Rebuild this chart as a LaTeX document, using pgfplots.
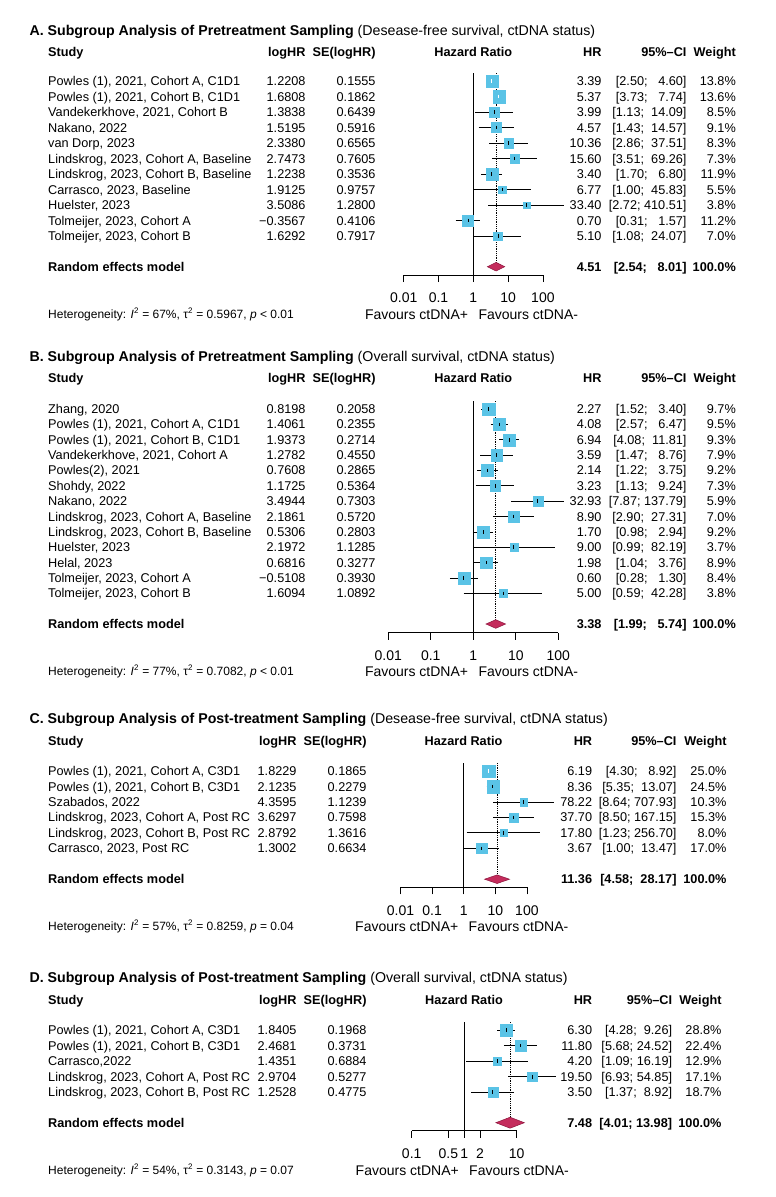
\documentclass[border=0pt]{standalone}
\usepackage{fontspec}
\setmainfont{Liberation Sans}
\usepackage{pgfplots}
\pgfplotsset{compat=1.18}
\definecolor{sq}{RGB}{90,195,230}
\definecolor{dia}{RGB}{196,44,92}
\definecolor{diab}{RGB}{140,20,60}
\newcommand\fb{\fontsize{12.7pt}{15pt}\selectfont}
\newcommand\ft{\fontsize{14.2pt}{17pt}\selectfont}
\newcommand\fx{\fontsize{14pt}{17pt}\selectfont}
\newcommand\fh{\fontsize{12pt}{14pt}\selectfont}
\tikzset{
 L/.style={anchor=west, inner sep=0pt, text height=9.1pt, text depth=0pt, font=\fb},
 R/.style={anchor=east, inner sep=0pt, text height=9.1pt, text depth=0pt, font=\fb},
 C/.style={anchor=center, inner sep=0pt, text height=9.1pt, text depth=0pt, font=\fb},
 T/.style={anchor=west, inner sep=0pt, text height=10.2pt, text depth=0pt, font=\ft},
 H/.style={anchor=west, inner sep=0pt, text height=8.6pt, text depth=0pt, font=\fh},
 F/.style={inner sep=0pt, text height=10pt, text depth=0pt, font=\fx},
}
\pgfplotsset{forestax/.style={
 scale only axis, clip=false,
 anchor=south west,
 axis x line=bottom, axis y line=none,
 x axis line style={-, line width=0.8pt, black},
 xtick align=outside, major tick length=7pt,
 tick style={black, line width=0.8pt},
 xminorticks=false,
 xticklabels={},
}}
\newcommand\trow[7]{%
 \node[L] at (48pt,-#1pt) {#2};
 \node[R] at (\xlog,-#1pt) {#3};
 \node[R] at (\xse,-#1pt) {#4};
 \node[R] at (\xhr,-#1pt) {#5};
 \node[R] at (\xci,-#1pt) {#6};
 \node[R] at (\xw,-#1pt) {#7};}
\newcommand\hrow[2]{%
 \node[L,font=\fb\bfseries] at (48pt,-#1pt) {Study};
 \node[R,font=\fb\bfseries] at (\xlog,-#1pt) {logHR};
 \node[R,font=\fb\bfseries] at (\xse,-#1pt) {SE(logHR)};
 \node[C,font=\fb\bfseries] at (#2,-#1pt) {Hazard Ratio};
 \node[R,font=\fb\bfseries] at (\xhr,-#1pt) {HR};
 \node[R,font=\fb\bfseries] at (\xci,-#1pt) {95\%--CI};
 \node[R,font=\fb\bfseries] at (\xw,-#1pt) {Weight};}
\newcommand\srow[3]{%
 \node[L,font=\fb\bfseries] at (48pt,-#1pt) {Random effects model};
 \node[R,font=\fb\bfseries] at (\xhr,-#1pt) {#2};
 \node[R,font=\fb\bfseries] at (\xci,-#1pt) {#3};
 \node[R,font=\fb\bfseries] at (\xw,-#1pt) {100.0\%};}
\newcommand\ttl[3]{\node[T] at (29.3pt,-#1pt) {\textbf{#2} #3};}
\newcommand\het[4]{\node[H] at (48pt,-#1pt) {Heterogeneity: \textit{I}\textsuperscript{2} = #2, τ\textsuperscript{2} = #3, \textit{p} #4};}
\newcommand\fav[2]{%
 \node[F,anchor=east,xshift=-5pt] at (#2pt,-#1pt) {Favours ctDNA+};
 \node[F,anchor=west,xshift=5pt] at (#2pt,-#1pt) {Favours ctDNA-};}
\newcommand\frow[6]{%
 \addplot[sq, only marks, mark=square*, mark size=#5pt, mark options={solid, line width=0.1pt, draw=sq, fill=sq}] coordinates {(#2,-#1)};
 \addplot[#6, line width=0.8pt] coordinates {(#3,-#1) (#4,-#1)};
 \addplot[#6, only marks, mark=|, mark size=1.8pt, mark options={line width=0.8pt}] coordinates {(#2,-#1)};}
% tick label at x value #1, pixel row #2
\newcommand\tl[2]{\node[F,anchor=center] at (axis cs:#1,-#2) {#1};}
\begin{document}
\begin{tikzpicture}
\useasboundingbox (0pt,0pt) rectangle (776pt,-1197pt);
\fill[white] (0pt,0pt) rectangle (776pt,-1197pt);
%================ A
\def\xlog{305.7pt}\def\xse{375.7pt}\def\xhr{601.7pt}\def\xci{686.7pt}\def\xw{736pt}
\ttl{30}{A. Subgroup Analysis of Pretreatment Sampling}{(Desease-free survival, ctDNA status)}
\hrow{51.7}{473.3pt}
\trow{81}{Powles (1), 2021, Cohort A, C1D1}{1.2208}{0.1555}{3.39}{[2.50;~~~4.60]}{13.8\%}
\trow{96.5}{Powles (1), 2021, Cohort B, C1D1}{1.6808}{0.1862}{5.37}{[3.73;~~~7.74]}{13.6\%}
\trow{112}{Vandekerkhove, 2021, Cohort B}{1.3838}{0.6439}{3.99}{[1.13;~~14.09]}{8.5\%}
\trow{127.5}{Nakano, 2022}{1.5195}{0.5916}{4.57}{[1.43;~~14.57]}{9.1\%}
\trow{143}{van Dorp, 2023}{2.3380}{0.6565}{10.36}{[2.86;~~37.51]}{8.3\%}
\trow{158.5}{Lindskrog, 2023, Cohort A, Baseline}{2.7473}{0.7605}{15.60}{[3.51;~~69.26]}{7.3\%}
\trow{174}{Lindskrog, 2023, Cohort B, Baseline}{1.2238}{0.3536}{3.40}{[1.70;~~~6.80]}{11.9\%}
\trow{189.5}{Carrasco, 2023, Baseline}{1.9125}{0.9757}{6.77}{[1.00;~~45.83]}{5.5\%}
\trow{205}{Huelster, 2023}{3.5086}{1.2800}{33.40}{[2.72;~410.51]}{3.8\%}
\trow{220.5}{Tolmeijer, 2023, Cohort A}{−0.3567}{0.4106}{0.70}{[0.31;~~~1.57]}{11.2\%}
\trow{236}{Tolmeijer, 2023, Cohort B}{1.6292}{0.7917}{5.10}{[1.08;~~24.07]}{7.0\%}
\srow{266.7}{4.51}{[2.54;~~~8.01]}
\het{314}{67\%}{0.5967}{< 0.01}
\fav{314.5}{473.3}
\begin{semilogxaxis}[forestax, at={(403.7pt,-275pt)}, width=139.2pt, height=205pt,
 xmin=0.01, xmax=100, ymin=-275, ymax=-70,
 xtick={0.01,0.1,1,10,100}]
\addplot[black, line width=0.8pt] coordinates {(1,-73) (1,-275)};
\addplot[black, densely dotted, line width=0.8pt] coordinates {(4.51,-73) (4.51,-266.7)};
\frow{81}{3.39}{2.50}{4.60}{6.2}{white}
\frow{96.5}{5.37}{3.73}{7.74}{6.15}{white}
\frow{112}{3.99}{1.13}{14.09}{4.86}{black}
\frow{127.5}{4.57}{1.43}{14.57}{5.03}{black}
\frow{143}{10.36}{2.86}{37.51}{4.81}{black}
\frow{158.5}{15.60}{3.51}{69.26}{4.51}{black}
\frow{174}{3.40}{1.70}{6.80}{5.75}{black}
\frow{189.5}{6.77}{1.00}{45.83}{3.91}{black}
\frow{205}{33.40}{2.72}{410.51}{3.25}{black}
\frow{220.5}{0.70}{0.31}{1.57}{5.58}{black}
\frow{236}{5.10}{1.08}{24.07}{4.41}{black}
\addplot[fill=dia, draw=diab, line width=0.5pt] coordinates {(2.54,-266.7) (4.51,-262.4) (8.01,-266.7) (4.51,-271)} -- cycle;
\tl{0.01}{297.7}\tl{0.1}{297.7}\tl{1}{297.7}\tl{10}{297.7}\tl{100}{297.7}
\end{semilogxaxis}
%================ B
\ttl{356.7}{B. Subgroup Analysis of Pretreatment Sampling}{(Overall survival, ctDNA status)}
\hrow{377.7}{473.3pt}
\trow{409}{Zhang, 2020}{0.8198}{0.2058}{2.27}{[1.52;~~~3.40]}{9.7\%}
\trow{424.4}{Powles (1), 2021, Cohort A, C1D1}{1.4061}{0.2355}{4.08}{[2.57;~~~6.47]}{9.5\%}
\trow{439.7}{Powles (1), 2021, Cohort B, C1D1}{1.9373}{0.2714}{6.94}{[4.08;~~11.81]}{9.3\%}
\trow{455.1}{Vandekerkhove, 2021, Cohort A}{1.2782}{0.4550}{3.59}{[1.47;~~~8.76]}{7.9\%}
\trow{470.4}{Powles(2), 2021}{0.7608}{0.2865}{2.14}{[1.22;~~~3.75]}{9.2\%}
\trow{485.8}{Shohdy, 2022}{1.1725}{0.5364}{3.23}{[1.13;~~~9.24]}{7.3\%}
\trow{501.2}{Nakano, 2022}{3.4944}{0.7303}{32.93}{[7.87;~137.79]}{5.9\%}
\trow{516.5}{Lindskrog, 2023, Cohort A, Baseline}{2.1861}{0.5720}{8.90}{[2.90;~~27.31]}{7.0\%}
\trow{531.9}{Lindskrog, 2023, Cohort B, Baseline}{0.5306}{0.2803}{1.70}{[0.98;~~~2.94]}{9.2\%}
\trow{547.2}{Huelster, 2023}{2.1972}{1.1285}{9.00}{[0.99;~~82.19]}{3.7\%}
\trow{562.6}{Helal, 2023}{0.6816}{0.3277}{1.98}{[1.04;~~~3.76]}{8.9\%}
\trow{578}{Tolmeijer, 2023, Cohort A}{−0.5108}{0.3930}{0.60}{[0.28;~~~1.30]}{8.4\%}
\trow{593.3}{Tolmeijer, 2023, Cohort B}{1.6094}{1.0892}{5.00}{[0.59;~~42.28]}{3.8\%}
\srow{624}{3.38}{[1.99;~~~5.74]}
\het{671}{77\%}{0.7082}{< 0.01}
\fav{671.5}{473.3}
\begin{semilogxaxis}[forestax, at={(388.3pt,-632.7pt)}, width=170pt, height=237.7pt,
 xmin=0.01, xmax=100, ymin=-632.7, ymax=-395,
 xtick={0.01,0.1,1,10,100}]
\addplot[black, line width=0.8pt] coordinates {(1,-401) (1,-632.7)};
\addplot[black, densely dotted, line width=0.8pt] coordinates {(3.38,-401) (3.38,-624)};
\frow{409}{2.27}{1.52}{3.40}{6.2}{black}
\frow{424.4}{4.08}{2.57}{6.47}{6.14}{black}
\frow{439.7}{6.94}{4.08}{11.81}{6.07}{black}
\frow{455.1}{3.59}{1.47}{8.76}{5.6}{black}
\frow{470.4}{2.14}{1.22}{3.75}{6.04}{black}
\frow{485.8}{3.23}{1.13}{9.24}{5.38}{black}
\frow{501.2}{32.93}{7.87}{137.79}{4.84}{black}
\frow{516.5}{8.90}{2.90}{27.31}{5.27}{black}
\frow{531.9}{1.70}{0.98}{2.94}{6.04}{black}
\frow{547.2}{9.00}{0.99}{82.19}{3.83}{black}
\frow{562.6}{1.98}{1.04}{3.76}{5.94}{black}
\frow{578}{0.60}{0.28}{1.30}{5.77}{black}
\frow{593.3}{5.00}{0.59}{42.28}{3.88}{black}
\addplot[fill=dia, draw=diab, line width=0.5pt] coordinates {(1.99,-624) (3.38,-619.7) (5.74,-624) (3.38,-628.3)} -- cycle;
\tl{0.01}{655}\tl{0.1}{655}\tl{1}{655}\tl{10}{655}\tl{100}{655}
\end{semilogxaxis}
%================ C
\def\xlog{296.7pt}\def\xse{366.7pt}\def\xhr{592.3pt}\def\xci{676.7pt}\def\xw{726.7pt}
\ttl{718.8}{C. Subgroup Analysis of Post-treatment Sampling}{(Desease-free survival, ctDNA status)}
\hrow{740.8}{463.5pt}
\trow{771}{Powles (1), 2021, Cohort A, C3D1}{1.8229}{0.1865}{6.19}{[4.30;~~~8.92]}{25.0\%}
\trow{786.5}{Powles (1), 2021, Cohort B, C3D1}{2.1235}{0.2279}{8.36}{[5.35;~~13.07]}{24.5\%}
\trow{801.9}{Szabados, 2022}{4.3595}{1.1239}{78.22}{[8.64;~707.93]}{10.3\%}
\trow{817.4}{Lindskrog, 2023, Cohort A, Post RC}{3.6297}{0.7598}{37.70}{[8.50;~167.15]}{15.3\%}
\trow{832.8}{Lindskrog, 2023, Cohort B, Post RC}{2.8792}{1.3616}{17.80}{[1.23;~256.70]}{8.0\%}
\trow{848.3}{Carrasco, 2023, Post RC}{1.3002}{0.6634}{3.67}{[1.00;~~13.47]}{17.0\%}
\srow{879.2}{11.36}{[4.58;~~28.17]}
\het{926}{57\%}{0.8259}{= 0.04}
\fav{926}{463.5}
\begin{semilogxaxis}[forestax, at={(400.5pt,-887.3pt)}, width=126.4pt, height=132.3pt,
 xmin=0.01, xmax=100, ymin=-887.3, ymax=-755,
 xtick={0.01,0.1,1,10,100}]
\addplot[black, line width=0.8pt] coordinates {(1,-763) (1,-887.3)};
\addplot[black, densely dotted, line width=0.8pt] coordinates {(11.36,-763) (11.36,-879.2)};
\frow{771}{6.19}{4.30}{8.92}{6.2}{white}
\frow{786.5}{8.36}{5.35}{13.07}{6.14}{black}
\frow{801.9}{78.22}{8.64}{707.93}{3.98}{black}
\frow{817.4}{37.70}{8.50}{167.15}{4.85}{black}
\frow{832.8}{17.80}{1.23}{256.70}{3.51}{black}
\frow{848.3}{3.67}{1.00}{13.47}{5.11}{black}
\addplot[fill=dia, draw=diab, line width=0.5pt] coordinates {(4.58,-879.2) (11.36,-874.9) (28.17,-879.2) (11.36,-883.5)} -- cycle;
\tl{0.01}{910}\tl{0.1}{910}\tl{1}{910}\tl{10}{910}\tl{100}{910}
\end{semilogxaxis}
%================ D
\def\xlog{296.7pt}\def\xse{366.7pt}\def\xhr{592.3pt}\def\xci{672.3pt}\def\xw{721.7pt}
\ttl{977.2}{D. Subgroup Analysis of Post-treatment Sampling}{(Overall survival, ctDNA status)}
\hrow{1000}{464pt}
\trow{1030}{Powles (1), 2021, Cohort A, C3D1}{1.8405}{0.1968}{6.30}{[4.28;~~9.26]}{28.8\%}
\trow{1045.6}{Powles (1), 2021, Cohort B, C3D1}{2.4681}{0.3731}{11.80}{[5.68;~24.52]}{22.4\%}
\trow{1061.1}{Carrasco,2022}{1.4351}{0.6884}{4.20}{[1.09;~16.19]}{12.9\%}
\trow{1076.7}{Lindskrog, 2023, Cohort A, Post RC}{2.9704}{0.5277}{19.50}{[6.93;~54.85]}{17.1\%}
\trow{1092.2}{Lindskrog, 2023, Cohort B, Post RC}{1.2528}{0.4775}{3.50}{[1.37;~~8.92]}{18.7\%}
\srow{1122.7}{7.48}{[4.01;~13.98]}
\het{1170}{54\%}{0.3143}{= 0.07}
\fav{1170}{464}
\begin{semilogxaxis}[forestax, at={(411.7pt,-1130.7pt)}, width=105pt, height=115.7pt,
 xmin=0.1, xmax=10, ymin=-1130.7, ymax=-1015,
 xtick={0.1,0.5,1,2,10}]
\addplot[black, line width=0.8pt] coordinates {(1,-1022) (1,-1130.7)};
\addplot[black, densely dotted, line width=0.8pt] coordinates {(7.48,-1022) (7.48,-1122.7)};
\frow{1030}{6.30}{4.28}{9.26}{6.2}{black}
\frow{1045.6}{11.80}{5.68}{24.52}{5.47}{black}
\frow{1061.1}{4.20}{1.09}{16.19}{4.15}{black}
\frow{1076.7}{19.50}{6.93}{54.85}{4.78}{black}
\frow{1092.2}{3.50}{1.37}{8.92}{5.0}{black}
\addplot[fill=dia, draw=diab, line width=0.5pt] coordinates {(4.01,-1122.7) (7.48,-1117.2) (13.98,-1122.7) (7.48,-1128.2)} -- cycle;
\tl{0.1}{1153.3}\tl{0.5}{1153.3}\tl{1}{1153.3}\tl{2}{1153.3}\tl{10}{1153.3}
\end{semilogxaxis}
\end{tikzpicture}
\end{document}
